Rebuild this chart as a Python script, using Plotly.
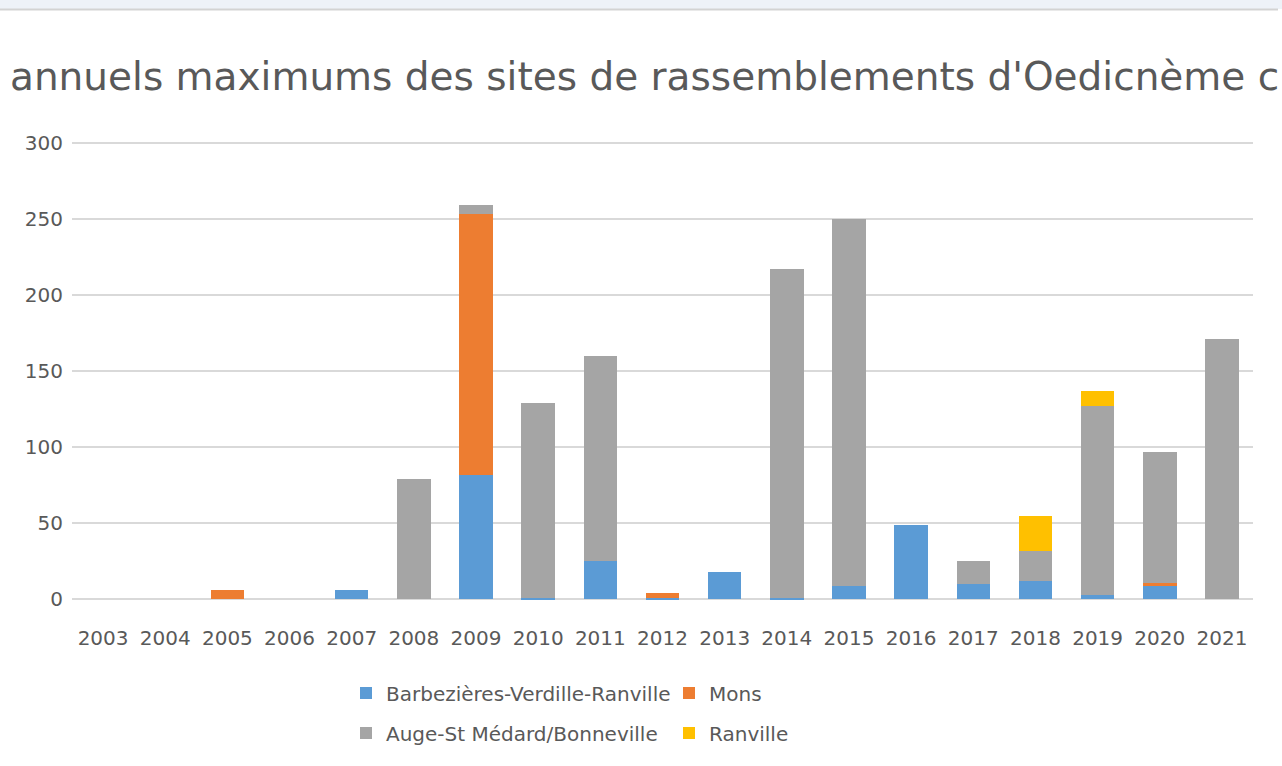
import plotly.graph_objects as go

# Annual maximum counts per gathering site
years = [str(y) for y in range(2003, 2022)]
barbezieres = [0, 0, 0, 0, 6, 0, 82, 1, 25, 1, 18, 1, 9, 49, 10, 12, 3, 9, 0]
mons = [0, 0, 6, 0, 0, 0, 171, 0, 0, 3, 0, 0, 0, 0, 0, 0, 0, 2, 0]
auge = [0, 0, 0, 0, 0, 79, 6, 128, 135, 0, 0, 216, 241, 0, 15, 20, 124, 86, 171]
ranville = [0, 0, 0, 0, 0, 0, 0, 0, 0, 0, 0, 0, 0, 0, 0, 23, 10, 0, 0]

series_names = ["Barbezières-Verdille-Ranville", "Mons",
                "Auge-St Médard/Bonneville", "Ranville"]
series_values = [barbezieres, mons, auge, ranville]
series_colors = ["#5B9BD5", "#ED7D31", "#A5A5A5", "#FFC000"]
series_legend = ["legend", "legend", "legend2", "legend2"]

title_text = "annuels maximums des sites de rassemblements d'Oedicnème c"

W, H = 1282, 766
ML, MR, MT, MB = 72, 29, 138, 162
PW, PH = W - ML - MR, H - MT - MB
TEXT = "#595959"
FONT = "DejaVu Sans"


def px_x(px):
    return (px - ML) / PW


def px_y(py):
    return (H - MB - py) / PH


fig = go.Figure()
for name, vals, col, leg in zip(series_names, series_values, series_colors, series_legend):
    fig.add_trace(go.Bar(
        x=years, y=vals, name=name, marker=dict(color=col, line=dict(width=0)),
        legend=leg,
    ))

legend_common = dict(
    orientation="h", xanchor="left", yanchor="middle", traceorder="normal",
    font=dict(family=FONT, size=20, color=TEXT),
    entrywidth=278, entrywidthmode="pixels",
    bgcolor="rgba(0,0,0,0)", borderwidth=0,
    itemclick=False, itemdoubleclick=False,
)

fig.update_layout(
    width=W, height=H,
    margin=dict(l=ML, r=MR, t=MT, b=MB, autoexpand=False),
    paper_bgcolor="white", plot_bgcolor="white",
    barmode="stack", bargap=0.46,
    showlegend=True,
    legend=dict(x=px_x(346), y=px_y(693), **legend_common),
    legend2=dict(x=px_x(346), y=px_y(733), **legend_common),
    title=dict(
        text=title_text, xref="container", yref="container",
        x=10 / W, xanchor="left", y=1 - 76 / H, yanchor="middle",
        font=dict(family=FONT, size=39, color=TEXT),
    ),
    xaxis=dict(
        type="category", showgrid=False, showline=False, zeroline=False,
        ticks="", tickfont=dict(family=FONT, size=20, color=TEXT),
        ticklabelstandoff=20,
    ),
    yaxis=dict(
        range=[-3, 303], tickvals=[0, 50, 100, 150, 200, 250, 300],
        showgrid=True, gridcolor="#D9D9D9",
        gridwidth=1.5, zeroline=False, showline=False, ticks="",
        tickfont=dict(family=FONT, size=20, color=TEXT),
        ticklabelstandoff=8,
    ),
    shapes=[
        dict(type="rect", xref="paper", yref="paper",
             x0=px_x(0), x1=px_x(W), y0=px_y(9), y1=px_y(0),
             fillcolor="#EEF2F8", line=dict(width=0), layer="below"),
        dict(type="line", xref="paper", yref="paper",
             x0=px_x(0), x1=px_x(1278), y0=px_y(9.5), y1=px_y(9.5),
             line=dict(color="#D3D3D3", width=2)),
    ],
)

fig.write_html("out.html")
